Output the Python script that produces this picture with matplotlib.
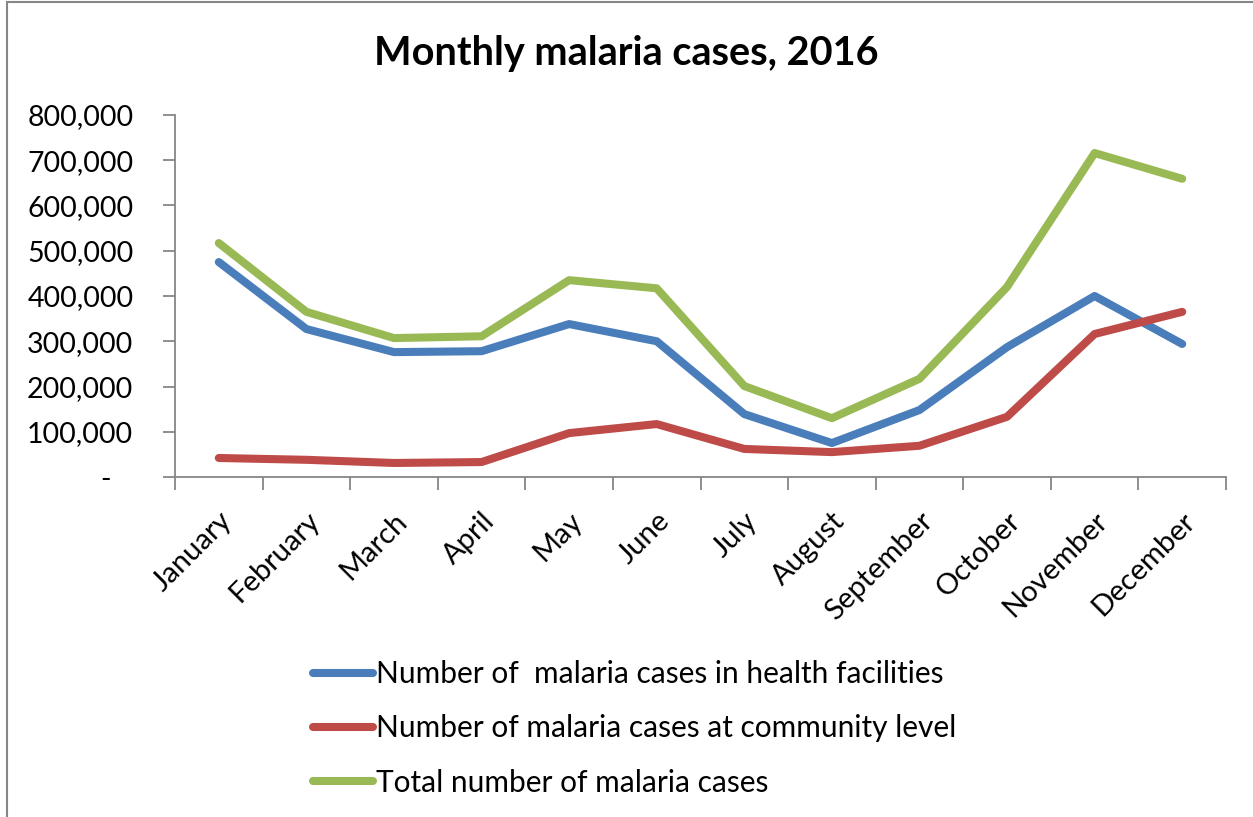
import numpy as np
import matplotlib.pyplot as plt
from matplotlib.ticker import FuncFormatter, FixedLocator
from matplotlib.patches import Rectangle

months = ["January", "February", "March", "April", "May", "June", "July",
          "August", "September", "October", "November", "December"]
health_facilities = [475000, 327000, 276000, 278000, 338000, 300000,
                     139000, 75000, 148000, 287000, 400000, 294000]
community = [42000, 38000, 31000, 33000, 97000, 117000,
             62000, 55000, 69000, 133000, 316000, 365000]
total = [517000, 365000, 307000, 311000, 435000, 417000,
         201000, 130000, 217000, 420000, 716000, 659000]

plt.rcParams['font.family'] = ['Lato', 'DejaVu Sans']

fig = plt.figure(figsize=(12.53, 8.17), dpi=100)
fig.patches.append(Rectangle((7 / 1253, -0.1), 2, 1.1 - 2 / 817,
                             transform=fig.transFigure, fill=False,
                             edgecolor='#868686', linewidth=1.5))

ax = fig.add_axes([175 / 1253, 340 / 817, 1051 / 1253, 362 / 817])
x = np.arange(len(months))
lw = 5.8
ax.plot(x, health_facilities, color='#4A7EBB', lw=lw, solid_capstyle='round',
        solid_joinstyle='round', label="Number of  malaria cases in health facilities")
ax.plot(x, community, color='#BE4B48', lw=lw, solid_capstyle='round',
        solid_joinstyle='round', label="Number of malaria cases at community level")
ax.plot(x, total, color='#98B954', lw=lw, solid_capstyle='round',
        solid_joinstyle='round', label="Total number of malaria cases")

ax.set_xlim(-0.5, len(months) - 0.5)
ax.set_ylim(0, 800000)
ax.set_yticks(np.arange(0, 800001, 100000))
ax.yaxis.set_major_formatter(FuncFormatter(lambda v, p: "-   " if v == 0 else f"{int(v):,}"))

# month boundaries carry the tick marks, labels sit at the centres
ax.xaxis.set_major_locator(FixedLocator(np.arange(-0.5, len(months), 1.0)))
ax.xaxis.set_major_formatter(FuncFormatter(lambda v, p: ""))
ax.set_xticks(x, minor=True)
ax.set_xticklabels(months, minor=True, rotation=45, ha='right',
                   rotation_mode='anchor', fontsize=21)
ax.tick_params(axis='x', which='minor', length=0, pad=22)
ax.tick_params(axis='x', which='major', length=9, width=1.3, color='#868686', direction='out')
ax.tick_params(axis='y', length=9, width=1.3, color='#868686', labelsize=20.5, pad=21)

for s in ['top', 'right']:
    ax.spines[s].set_visible(False)
for s in ['left', 'bottom']:
    ax.spines[s].set_color('#868686')
    ax.spines[s].set_linewidth(1.3)

fig.text(0.5, 1 - 53 / 817, "Monthly malaria cases, 2016", ha='center', va='center',
         fontsize=28.5, fontweight='bold')

fig.legend(loc='upper left', bbox_to_anchor=(313 / 1253, 1 - 660 / 817),
           frameon=False, fontsize=21.5, handlelength=2.0, handletextpad=0.12,
           labelspacing=0.88, borderaxespad=0, borderpad=0)

fig.savefig("out.png", dpi=100)
